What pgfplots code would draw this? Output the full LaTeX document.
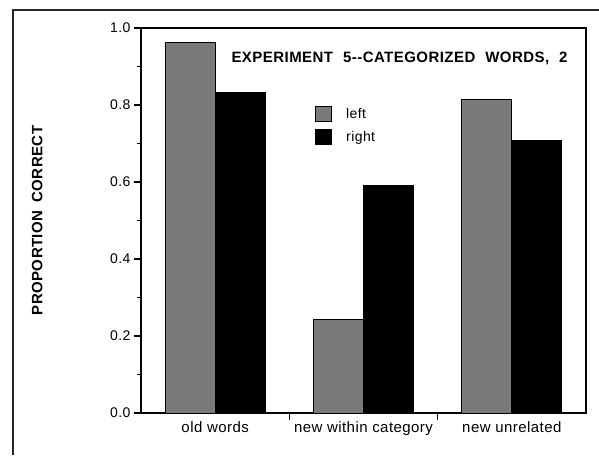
\documentclass[border=0pt]{standalone}
\usepackage{pgfplots}
\pgfplotsset{compat=1.18}
\usepackage{fontspec}
\setmainfont{Liberation Sans}[LetterSpace=3]
\pgfplotsset{sqlegend/.style={legend image code/.code={\draw[##1] (0pt,-7.5pt) rectangle (16pt,7.5pt);}}}
\begin{document}
\begin{tikzpicture}[x=1pt,y=1pt]
\path[use as bounding box] (0,0) rectangle (599,455);
\draw[line width=1.2pt, black!85] (13,0) -- (13,445) -- (599,445);
\begin{axis}[
  at={(141pt,42pt)}, anchor=south west,
  scale only axis, width=445pt, height=385pt,
  xmin=-0.5, xmax=2.5, ymin=0, ymax=1,
  axis line style={line width=1.6pt},
  tick align=outside,
  ytick={0,0.2,0.4,0.6,0.8,1.0},
  yticklabels={0.0,0.2,0.4,0.6,0.8,1.0},
  minor ytick={0.1,0.3,0.5,0.7,0.9},
  major tick length=7pt, minor tick length=4pt,
  every tick/.style={black, line width=1.2pt},
  ytick pos=left, xtick pos=bottom,
  xtick={0.5,1.5}, xticklabels={},
  extra x ticks={0,1,2},
  extra x tick labels={old words,new within category,new unrelated},
  extra x tick style={major tick length=0pt},
  xticklabel style={font=\fontsize{15}{17}\selectfont, yshift=-5pt},
  yticklabel style={font=\fontsize{14}{16}\selectfont},
  ylabel={PROPORTION\hspace{8pt}CORRECT},
  ylabel style={font=\bfseries\fontsize{15}{17}\selectfont, at={(rel axis cs:-0.233,0.50)}, anchor=center},
  legend cell align=left,
  legend style={draw=none, fill=none, at={(rel axis cs:0.391,0.798)}, anchor=north west,
    font=\fontsize{14}{16}\selectfont, inner sep=0pt, row sep=7pt,
    nodes={inner sep=1pt},
    /tikz/every odd column/.append style={column sep=13pt}},
]
\addplot[ybar, bar width=50pt, bar shift=-25pt, fill=black!52, draw=black, line width=1pt, sqlegend]
  coordinates {(0,0.963) (1,0.243) (2,0.815)};
\addplot[ybar, bar width=50pt, bar shift=25pt, fill=black, draw=black, line width=1pt, sqlegend]
  coordinates {(0,0.832) (1,0.592) (2,0.709)};
\legend{left,right}
\node[anchor=west, font=\bfseries\fontsize{15}{17}\selectfont, inner sep=0pt] at (rel axis cs:0.203,0.922)
  {EXPERIMENT\hspace{10pt}5{-}{-}CATEGORIZED\hspace{10pt}WORDS,\hspace{10pt}2};
\end{axis}
\end{tikzpicture}
\end{document}
